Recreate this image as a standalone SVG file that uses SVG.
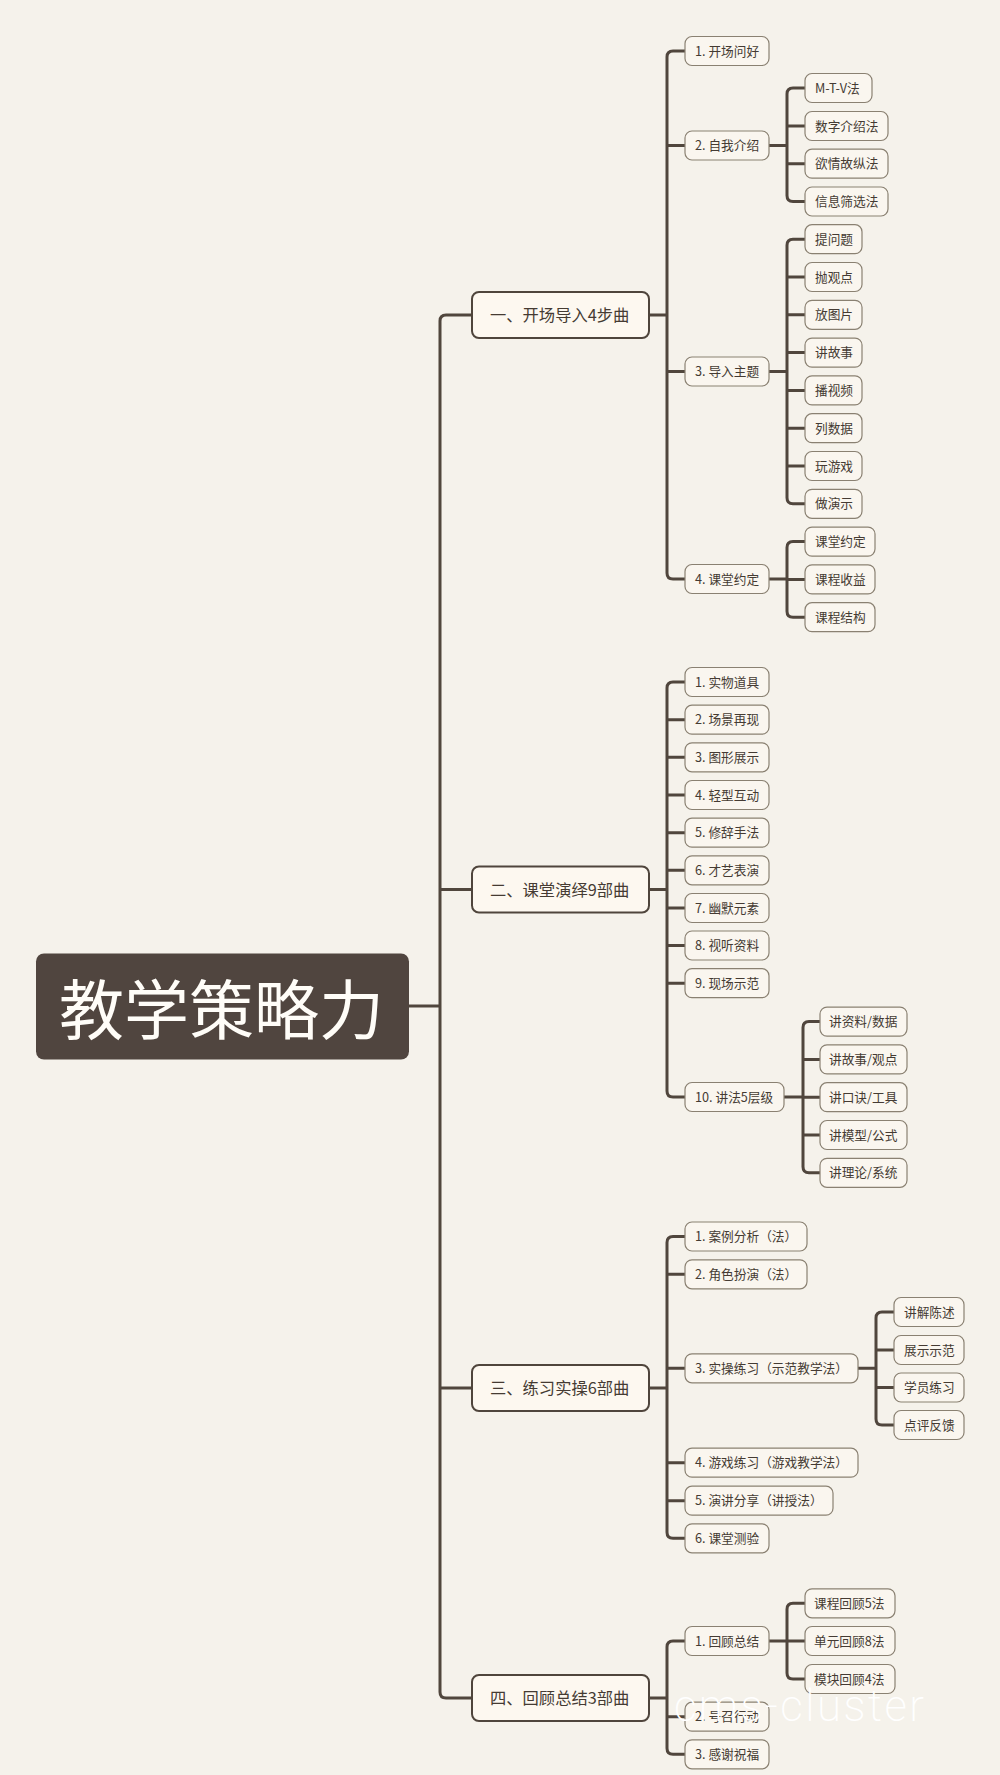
<svg xmlns="http://www.w3.org/2000/svg" width="1000" height="1775" viewBox="0 0 1000 1775">
<style>
text{font-family:"Noto Sans CJK SC","Noto Sans",sans-serif;dominant-baseline:central;fill:#453b33;transform:translateY(-1px)}
.n rect{fill:#faf6ef;stroke:#8a8172;stroke-width:1.2}
.n text{font-size:12.7px}
.l rect{fill:#fdf8f0;stroke:#4f453c;stroke-width:2}
.l text{font-size:16.3px}
#connectors path{fill:none;stroke:#50463d;stroke-width:3;stroke-linecap:butt}
</style>
<rect width="1000" height="1775" fill="#f5f2eb"/>
<g id="connectors">
<path d="M409 1006H440"/>
<path d="M472 315H446Q440 315 440 321V1692Q440 1698 446 1698H472"/>
<path d="M440 889.5H472M440 1388H472"/>
<path d="M649 315H667M685 51H673Q667 51 667 57V573Q667 579 673 579H685M667 145.500H685M667 371.500H685"/>
<path d="M769 145.500H787M805 88H793Q787 88 787 94V195.500Q787 201.500 793 201.500H805M787 126H805M787 163.700H805"/>
<path d="M769 371.500H787M805 239.200H793Q787 239.200 787 245.200V497.800Q787 503.800 793 503.800H805M787 277H805M787 314.800H805M787 352.600H805M787 390.400H805M787 428.200H805M787 466H805"/>
<path d="M769 579H787M805 541.600H793Q787 541.600 787 547.600V611.200Q787 617.200 793 617.200H805M787 579.400H805"/>
<path d="M649 889.500H667M685 682H673Q667 682 667 688V1091Q667 1097 673 1097H685M667 719.700H685M667 757.300H685M667 795H685M667 832.700H685M667 870.300H685M667 908H685M667 945.500H685M667 983.200H685"/>
<path d="M784 1097H803M820 1021.600H809Q803 1021.600 803 1027.600V1166.800Q803 1172.800 809 1172.800H820M803 1059.400H820M803 1097.200H820M803 1135H820"/>
<path d="M649 1388H667M685 1236.500H673Q667 1236.500 667 1242.500V1532.300Q667 1538.300 673 1538.300H685M667 1274.300H685M667 1368.300H685M667 1462.700H685M667 1500.700H685"/>
<path d="M858 1368.300H876M894 1312H882Q876 1312 876 1318V1419Q876 1425 882 1425H894M876 1350H894M876 1387.500H894"/>
<path d="M649 1698H667M685 1641H673Q667 1641 667 1647V1748.300Q667 1754.300 673 1754.300H685M667 1716.700H685"/>
<path d="M769 1641H787M805 1603.300H793Q787 1603.300 787 1609.300V1673Q787 1679 793 1679H805M787 1641H805"/>
</g>
<g id="root"><rect x="36" y="953.500" width="373" height="106" rx="8" fill="#50453f"/><text x="59" y="1007" font-size="65" style="fill:#fffdf8">教学策略力</text></g>
<g id="l1-1" class="l"><rect x="472" y="292" width="177" height="46" rx="7"/><text x="490" y="315">一、开场导入4步曲</text></g>
<g id="l1-2" class="l"><rect x="472" y="866.500" width="177" height="46" rx="7"/><text x="490" y="889.500">二、课堂演绎9部曲</text></g>
<g id="l1-3" class="l"><rect x="472" y="1365" width="177" height="46" rx="7"/><text x="490" y="1388">三、练习实操6部曲</text></g>
<g id="l1-4" class="l"><rect x="472" y="1675" width="177" height="46" rx="7"/><text x="490" y="1698">四、回顾总结3部曲</text></g>

<g id="a1" class="n"><rect x="685" y="36.500" width="84" height="29" rx="7"/><text x="695" y="51">1. 开场问好</text></g>
<g id="a2" class="n"><rect x="685" y="131" width="84" height="29" rx="7"/><text x="695" y="145.500">2. 自我介绍</text></g>
<g id="a2-1" class="n"><rect x="805" y="73.500" width="67" height="29" rx="7"/><text x="815" y="88">M-T-V法</text></g>
<g id="a2-2" class="n"><rect x="805" y="111.500" width="83" height="29" rx="7"/><text x="815" y="126">数字介绍法</text></g>
<g id="a2-3" class="n"><rect x="805" y="149.200" width="83" height="29" rx="7"/><text x="815" y="163.700">欲情故纵法</text></g>
<g id="a2-4" class="n"><rect x="805" y="187" width="83" height="29" rx="7"/><text x="815" y="201.500">信息筛选法</text></g>
<g id="a3" class="n"><rect x="685" y="357" width="84" height="29" rx="7"/><text x="695" y="371.500">3. 导入主题</text></g>
<g id="a3-1" class="n"><rect x="805" y="224.700" width="57" height="29" rx="7"/><text x="815" y="239.200">提问题</text></g>
<g id="a3-2" class="n"><rect x="805" y="262.500" width="57" height="29" rx="7"/><text x="815" y="277">抛观点</text></g>
<g id="a3-3" class="n"><rect x="805" y="300.300" width="57" height="29" rx="7"/><text x="815" y="314.800">放图片</text></g>
<g id="a3-4" class="n"><rect x="805" y="338.100" width="57" height="29" rx="7"/><text x="815" y="352.600">讲故事</text></g>
<g id="a3-5" class="n"><rect x="805" y="375.900" width="57" height="29" rx="7"/><text x="815" y="390.400">播视频</text></g>
<g id="a3-6" class="n"><rect x="805" y="413.700" width="57" height="29" rx="7"/><text x="815" y="428.200">列数据</text></g>
<g id="a3-7" class="n"><rect x="805" y="451.500" width="57" height="29" rx="7"/><text x="815" y="466">玩游戏</text></g>
<g id="a3-8" class="n"><rect x="805" y="489.300" width="57" height="29" rx="7"/><text x="815" y="503.800">做演示</text></g>
<g id="a4" class="n"><rect x="685" y="564.500" width="84" height="29" rx="7"/><text x="695" y="579">4. 课堂约定</text></g>
<g id="a4-1" class="n"><rect x="805" y="527.100" width="70" height="29" rx="7"/><text x="815" y="541.600">课堂约定</text></g>
<g id="a4-2" class="n"><rect x="805" y="564.900" width="70" height="29" rx="7"/><text x="815" y="579.400">课程收益</text></g>
<g id="a4-3" class="n"><rect x="805" y="602.700" width="70" height="29" rx="7"/><text x="815" y="617.200">课程结构</text></g>

<g id="b1" class="n"><rect x="685" y="667.500" width="84" height="29" rx="7"/><text x="695" y="682">1. 实物道具</text></g>
<g id="b2" class="n"><rect x="685" y="705.200" width="84" height="29" rx="7"/><text x="695" y="719.700">2. 场景再现</text></g>
<g id="b3" class="n"><rect x="685" y="742.800" width="84" height="29" rx="7"/><text x="695" y="757.300">3. 图形展示</text></g>
<g id="b4" class="n"><rect x="685" y="780.500" width="84" height="29" rx="7"/><text x="695" y="795">4. 轻型互动</text></g>
<g id="b5" class="n"><rect x="685" y="818.200" width="84" height="29" rx="7"/><text x="695" y="832.700">5. 修辞手法</text></g>
<g id="b6" class="n"><rect x="685" y="855.800" width="84" height="29" rx="7"/><text x="695" y="870.300">6. 才艺表演</text></g>
<g id="b7" class="n"><rect x="685" y="893.500" width="84" height="29" rx="7"/><text x="695" y="908">7. 幽默元素</text></g>
<g id="b8" class="n"><rect x="685" y="931" width="84" height="29" rx="7"/><text x="695" y="945.500">8. 视听资料</text></g>
<g id="b9" class="n"><rect x="685" y="968.700" width="84" height="29" rx="7"/><text x="695" y="983.200">9. 现场示范</text></g>
<g id="b10" class="n"><rect x="685" y="1082.500" width="99" height="29" rx="7"/><text x="695" y="1097">10. 讲法5层级</text></g>
<g id="b10-1" class="n"><rect x="820" y="1007.100" width="87" height="29" rx="7"/><text x="829" y="1021.600">讲资料/数据</text></g>
<g id="b10-2" class="n"><rect x="820" y="1044.900" width="87" height="29" rx="7"/><text x="829" y="1059.400">讲故事/观点</text></g>
<g id="b10-3" class="n"><rect x="820" y="1082.700" width="87" height="29" rx="7"/><text x="829" y="1097.200">讲口诀/工具</text></g>
<g id="b10-4" class="n"><rect x="820" y="1120.500" width="87" height="29" rx="7"/><text x="829" y="1135">讲模型/公式</text></g>
<g id="b10-5" class="n"><rect x="820" y="1158.300" width="87" height="29" rx="7"/><text x="829" y="1172.800">讲理论/系统</text></g>

<g id="c1" class="n"><rect x="685" y="1222" width="122" height="29" rx="7"/><text x="695" y="1236.500">1. 案例分析（法）</text></g>
<g id="c2" class="n"><rect x="685" y="1259.800" width="122" height="29" rx="7"/><text x="695" y="1274.300">2. 角色扮演（法）</text></g>
<g id="c3" class="n"><rect x="685" y="1353.800" width="173" height="29" rx="7"/><text x="695" y="1368.300">3. 实操练习（示范教学法）</text></g>
<g id="c3-1" class="n"><rect x="894" y="1297.500" width="70" height="29" rx="7"/><text x="904" y="1312">讲解陈述</text></g>
<g id="c3-2" class="n"><rect x="894" y="1335.500" width="70" height="29" rx="7"/><text x="904" y="1350">展示示范</text></g>
<g id="c3-3" class="n"><rect x="894" y="1373" width="70" height="29" rx="7"/><text x="904" y="1387.500">学员练习</text></g>
<g id="c3-4" class="n"><rect x="894" y="1410.500" width="70" height="29" rx="7"/><text x="904" y="1425">点评反馈</text></g>
<g id="c4" class="n"><rect x="685" y="1448.200" width="173" height="29" rx="7"/><text x="695" y="1462.700">4. 游戏练习（游戏教学法）</text></g>
<g id="c5" class="n"><rect x="685" y="1486.200" width="148" height="29" rx="7"/><text x="695" y="1500.700">5. 演讲分享（讲授法）</text></g>
<g id="c6" class="n"><rect x="685" y="1523.800" width="84" height="29" rx="7"/><text x="695" y="1538.300">6. 课堂测验</text></g>

<g id="d1" class="n"><rect x="685" y="1626.500" width="84" height="29" rx="7"/><text x="695" y="1641">1. 回顾总结</text></g>
<g id="d1-1" class="n"><rect x="805" y="1588.800" width="90" height="29" rx="7"/><text x="814" y="1603.300">课程回顾5法</text></g>
<g id="d1-2" class="n"><rect x="805" y="1626.500" width="90" height="29" rx="7"/><text x="814" y="1641">单元回顾8法</text></g>
<g id="d1-3" class="n"><rect x="805" y="1664.500" width="90" height="29" rx="7"/><text x="814" y="1679">模块回顾4法</text></g>
<g id="d2" class="n"><rect x="685" y="1702.200" width="84" height="29" rx="7"/><text x="695" y="1716.700">2. 号召行动</text></g>
<g id="d3" class="n"><rect x="685" y="1739.800" width="84" height="29" rx="7"/><text x="695" y="1754.300">3. 感谢祝福</text></g>

<text x="674" y="1722" textLength="250" lengthAdjust="spacing" font-size="44" font-weight="200" style="font-family:Roboto,'Open Sans',sans-serif;dominant-baseline:alphabetic;fill:#ffffff">cms-cluster</text>
</svg>
